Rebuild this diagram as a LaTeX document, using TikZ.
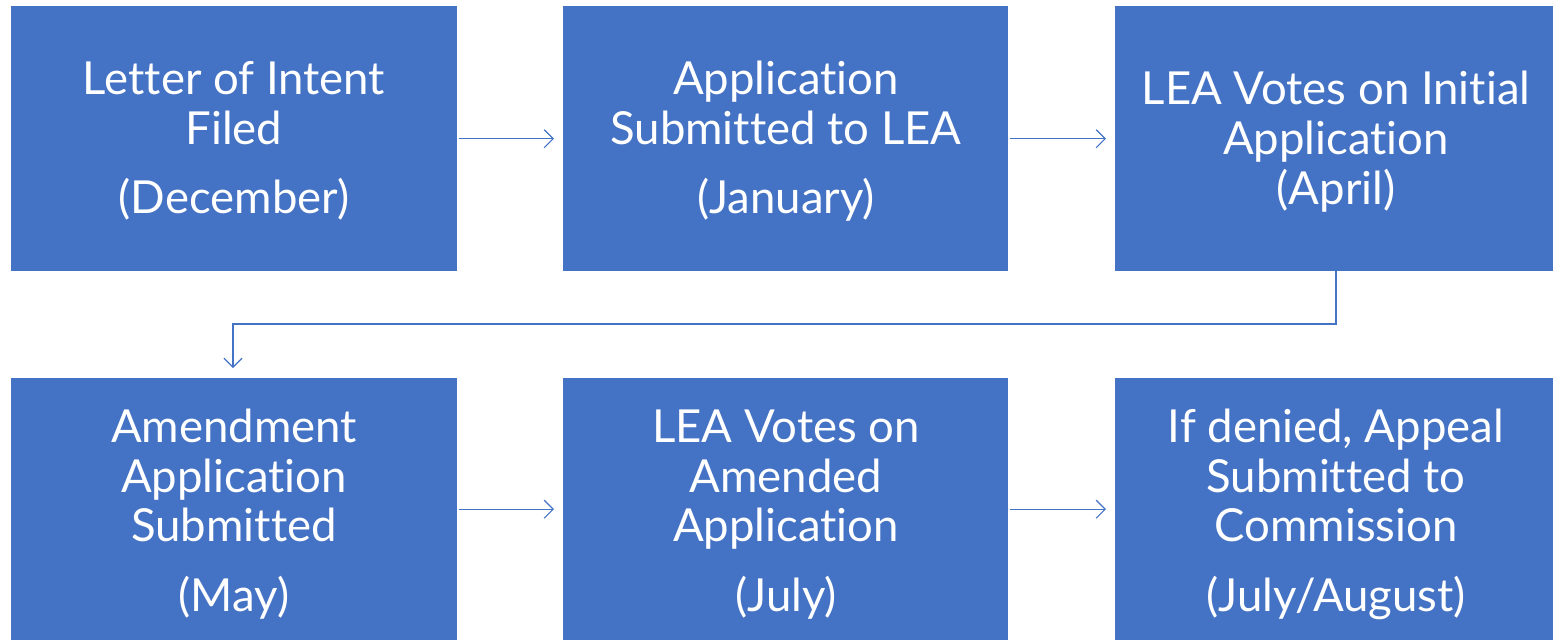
\documentclass[tikz,border=0pt]{standalone}
\usepackage{fontspec}
\setmainfont{Lato}[Ligatures={NoCommon}]
\usetikzlibrary{arrows.meta}
\definecolor{boxblue}{HTML}{4472C4}
\begin{document}
\begin{tikzpicture}[x=1pt,y=1pt,
  stagebox/.style={fill=boxblue,draw=none,inner sep=0,anchor=north west},
  label/.style={text=white,inner sep=0,anchor=base,font=\fontsize{45.5}{50}\selectfont},
  flow/.style={draw=boxblue,line width=1.2pt,-{Straight Barb[length=9pt,width=18pt,line width=1.2pt]}}]
\useasboundingbox (0,0) rectangle (1553,-640);
% top row
\node[stagebox,minimum width=446pt,minimum height=265pt] (b1) at (11,-6) {};
\node[stagebox,minimum width=445pt,minimum height=265pt] (b2) at (563,-6) {};
\node[stagebox,minimum width=438pt,minimum height=265pt] (b3) at (1115,-6) {};
% bottom row
\node[stagebox,minimum width=446pt,minimum height=262pt] (b4) at (11,-378) {};
\node[stagebox,minimum width=445pt,minimum height=262pt] (b5) at (563,-378) {};
\node[stagebox,minimum width=438pt,minimum height=262pt] (b6) at (1115,-378) {};
% texts
\node[label] (t1a) at (234,-94) {Letter of Intent};
\node[label] (t1b) at (234,-144) {Filed};
\node[label] (t1c) at (234,-213) {(December)};
\node[label] (t2a) at (786,-94) {Application};
\node[label] (t2b) at (786,-144) {Submitted to LEA};
\node[label] (t2c) at (786,-213) {(January)};
\node[label] (t3a) at (1336,-104) {LEA Votes on Initial};
\node[label] (t3b) at (1336,-154) {Application};
\node[label] (t3c) at (1336,-204) {(April)};
\node[label] (t4a) at (234,-442) {Amendment};
\node[label] (t4b) at (234,-492) {Application};
\node[label] (t4c) at (234,-541) {Submitted};
\node[label] (t4d) at (234,-611) {(May)};
\node[label] (t5a) at (786,-442) {LEA Votes on};
\node[label] (t5b) at (786,-492) {Amended};
\node[label] (t5c) at (786,-541) {Application};
\node[label] (t5d) at (786,-611) {(July)};
\node[label] (t6a) at (1336,-442) {If denied, Appeal};
\node[label] (t6b) at (1336,-492) {Submitted to};
\node[label] (t6c) at (1336,-541) {Commission};
\node[label] (t6d) at (1336,-611) {(July/August)};
% connectors
\draw[flow] ([xshift=2pt]b1.east) -- ([xshift=-9pt]b2.west);
\draw[flow] ([xshift=2pt]b2.east) -- ([xshift=-9pt]b3.west);
\draw[flow] ([xshift=2pt]b4.east) -- ([xshift=-9pt]b5.west);
\draw[flow] ([xshift=2pt]b5.east) -- ([xshift=-9pt]b6.west);
\coordinate (turn) at (0,-324);
\coordinate (b3out) at (1336,-271);
\coordinate (b4in) at (233,-368);
\draw[flow] (b3out) -- (b3out |- turn) -| (b4in);
\end{tikzpicture}
\end{document}
